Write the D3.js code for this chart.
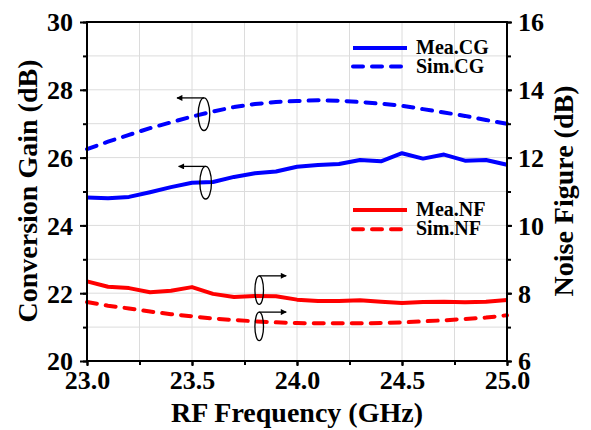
<!DOCTYPE html>
<html>
<head>
<meta charset="utf-8">
<script src="https://cdn.jsdelivr.net/npm/d3@7"></script>
<style>
  body { margin: 0; background: #fff; }
</style>
</head>
<body>
<svg id="chart" width="591" height="430"></svg>
<script>
// frequency points (GHz)
var freq = [23.0, 23.1, 23.2, 23.3, 23.4, 23.5, 23.6, 23.7, 23.8, 23.9, 24.0,
            24.1, 24.2, 24.3, 24.4, 24.5, 24.6, 24.7, 24.8, 24.9, 25.0];

// conversion gain (dB), left axis
var meaCG = [24.82, 24.80, 24.84, 24.98, 25.13, 25.26, 25.28, 25.43, 25.54, 25.59, 25.73,
             25.78, 25.81, 25.93, 25.89, 26.13, 25.97, 26.09, 25.91, 25.93, 25.79];
var simCG = [26.25, 26.47, 26.67, 26.87, 27.04, 27.21, 27.36, 27.49, 27.58, 27.64, 27.67,
             27.69, 27.68, 27.64, 27.59, 27.53, 27.43, 27.33, 27.23, 27.11, 27.00];

// noise figure (dB), right axis
var meaNF = [8.35, 8.19, 8.15, 8.03, 8.07, 8.18, 7.98, 7.89, 7.92, 7.91, 7.81,
             7.77, 7.77, 7.79, 7.75, 7.71, 7.74, 7.75, 7.73, 7.75, 7.80];
var simNF = [7.74, 7.63, 7.55, 7.46, 7.38, 7.32, 7.25, 7.21, 7.17, 7.14, 7.12,
             7.11, 7.11, 7.11, 7.12, 7.14, 7.17, 7.20, 7.24, 7.28, 7.35];

var xTicks = [23.0, 23.5, 24.0, 24.5, 25.0];
var cgTicks = [20, 22, 24, 26, 28, 30];
var nfTicks = [6, 8, 10, 12, 14, 16];

// ellipse + arrow markers (x in GHz, y on the axis the curve belongs to)
var annots = [
  {x: 23.557, y: 27.28, axis: "cg", dir: -1},
  {x: 23.565, y: 25.26, axis: "cg", dir: -1},
  {x: 23.82, y: 8.09, axis: "nf", dir: 1},
  {x: 23.82, y: 7.02, axis: "nf", dir: 1}
];

var series = [
  {name: "Mea.CG", values: meaCG, axis: "cg", color: "#0000ff", dash: null},
  {name: "Sim.CG", values: simCG, axis: "cg", color: "#0000ff", dash: "10,9"},
  {name: "Mea.NF", values: meaNF, axis: "nf", color: "#ff0000", dash: null},
  {name: "Sim.NF", values: simNF, axis: "nf", color: "#ff0000", dash: "10,9"}
];

var FONT = "Liberation Serif";

var margin = {top: 22, right: 84, bottom: 69, left: 87},
    width = 591 - margin.left - margin.right,
    height = 430 - margin.top - margin.bottom;

var svg = d3.select("#chart");
var g = svg.append("g").attr("transform", "translate(" + margin.left + "," + margin.top + ")");

var x = d3.scaleLinear().domain([23, 25]).range([0, width]);
var yCG = d3.scaleLinear().domain([20, 30]).range([height, 0]);
var yNF = d3.scaleLinear().domain([6, 16]).range([height, 0]);
function yOf(axis) { return axis == "cg" ? yCG : yNF; }

// grid
g.append("g").selectAll("line")
  .data(d3.range(23.25, 25, 0.25))
  .enter().append("line")
  .attr("x1", d => x(d)).attr("x2", d => x(d))
  .attr("y1", 0).attr("y2", height)
  .style("stroke", "#dcdcdc").style("stroke-width", 1);
g.append("g").selectAll("line")
  .data(d3.range(21, 30, 1))
  .enter().append("line")
  .attr("x1", 0).attr("x2", width)
  .attr("y1", d => yCG(d)).attr("y2", d => yCG(d))
  .style("stroke", "#dcdcdc").style("stroke-width", 1);

// curves
var line = function (s) {
  return d3.line()
    .x((d, i) => x(freq[i]))
    .y(d => yOf(s.axis)(d))(s.values);
};
g.selectAll("path.curve")
  .data(series)
  .enter().append("path")
  .attr("class", "curve")
  .attr("d", d => line(d))
  .style("fill", "none")
  .style("stroke", d => d.color)
  .style("stroke-width", 4)
  .style("stroke-linejoin", "round")
  .style("stroke-linecap", d => d.dash ? "round" : "butt")
  .style("stroke-dasharray", d => d.dash);

// axes
function styleAxis(sel) {
  sel.attr("font-family", FONT);
  sel.select(".domain").remove();
  sel.selectAll("line").style("stroke", "#000").style("stroke-width", 2);
  sel.selectAll("text")
    .style("font-family", FONT).style("font-weight", "bold")
    .style("font-size", "26px").style("fill", "#000");
}
g.append("g").attr("transform", "translate(0," + height + ")")
  .call(d3.axisBottom(x).tickValues(d3.range(23, 25.01, 0.25)).tickSize(4).tickFormat(""))
  .call(styleAxis);
g.append("g").attr("transform", "translate(0," + height + ")")
  .call(d3.axisBottom(x).tickValues(xTicks).tickSize(5).tickPadding(5).tickFormat(d3.format(".1f")))
  .call(styleAxis);

g.append("g").call(d3.axisLeft(yCG).ticks(10).tickSize(4).tickFormat("")).call(styleAxis);
g.append("g").call(d3.axisLeft(yCG).tickValues(cgTicks).tickSize(7).tickPadding(7))
  .call(styleAxis)
  .selectAll("text").attr("dy", "0.34em");

g.append("g").attr("transform", "translate(" + width + ",0)")
  .call(d3.axisRight(yNF).ticks(10).tickSize(4).tickFormat("")).call(styleAxis);
g.append("g").attr("transform", "translate(" + width + ",0)")
  .call(d3.axisRight(yNF).tickValues(nfTicks).tickSize(5).tickPadding(6))
  .call(styleAxis)
  .selectAll("text").attr("dy", "0.34em");

// frame
g.append("rect")
  .attr("width", width).attr("height", height)
  .style("fill", "none").style("stroke", "#000").style("stroke-width", 2);

// annotations
svg.append("defs").append("marker")
  .attr("id", "arr").attr("viewBox", "0 0 10 10")
  .attr("refX", 9).attr("refY", 5)
  .attr("markerWidth", 9).attr("markerHeight", 6)
  .attr("markerUnits", "userSpaceOnUse")
  .attr("orient", "auto")
  .append("path").attr("d", "M0,0L10,5L0,10z").style("fill", "#000");

var ann = g.selectAll("g.ann").data(annots).enter().append("g").attr("class", "ann")
  .attr("transform", d => "translate(" + x(d.x) + "," + yOf(d.axis)(d.y) + ")");
ann.append("ellipse")
  .attr("rx", d => d.dir < 0 ? 5.8 : 4.3)
  .attr("ry", d => d.dir < 0 ? 16.3 : 14.3)
  .style("fill", "none").style("stroke", "#000").style("stroke-width", 1.3);
ann.append("line")
  .attr("x1", 0).attr("x2", d => d.dir * 27)
  .attr("y1", d => d.dir < 0 ? -16.3 : -14.3)
  .attr("y2", d => d.dir < 0 ? -16.3 : -14.3)
  .style("stroke", "#000").style("stroke-width", 1.3)
  .attr("marker-end", "url(#arr)");

// legend
var legend = g.selectAll("g.leg").data(series).enter().append("g").attr("class", "leg")
  .attr("transform", (d, i) => "translate(266," + (i < 2 ? 26 + i * 18.5 : 188 + (i - 2) * 19.3) + ")");
legend.append("line")
  .attr("x1", 0).attr("x2", 54)
  .style("stroke", d => d.color).style("stroke-width", 4)
  .style("stroke-linecap", d => d.dash ? "round" : "butt")
  .style("stroke-dasharray", d => d.dash);
legend.append("text")
  .attr("x", 63).attr("y", 6)
  .style("font-family", FONT).style("font-weight", "bold")
  .style("font-size", "20px")
  .text(d => d.name);

// axis titles
function title(sel, size) {
  sel.attr("text-anchor", "middle")
    .style("font-family", FONT).style("font-weight", "bold")
    .style("font-size", size + "px");
}
svg.append("text")
  .attr("transform", "translate(37,191) rotate(-90)")
  .call(title, 28)
  .text("Conversion Gain (dB)");
svg.append("text")
  .attr("transform", "translate(573,191) rotate(-90)")
  .call(title, 28)
  .text("Noise Figure (dB)");
svg.append("text")
  .attr("x", margin.left + width / 2).attr("y", 422)
  .call(title, 28)
  .text("RF Frequency (GHz)");
</script>
</body>
</html>
